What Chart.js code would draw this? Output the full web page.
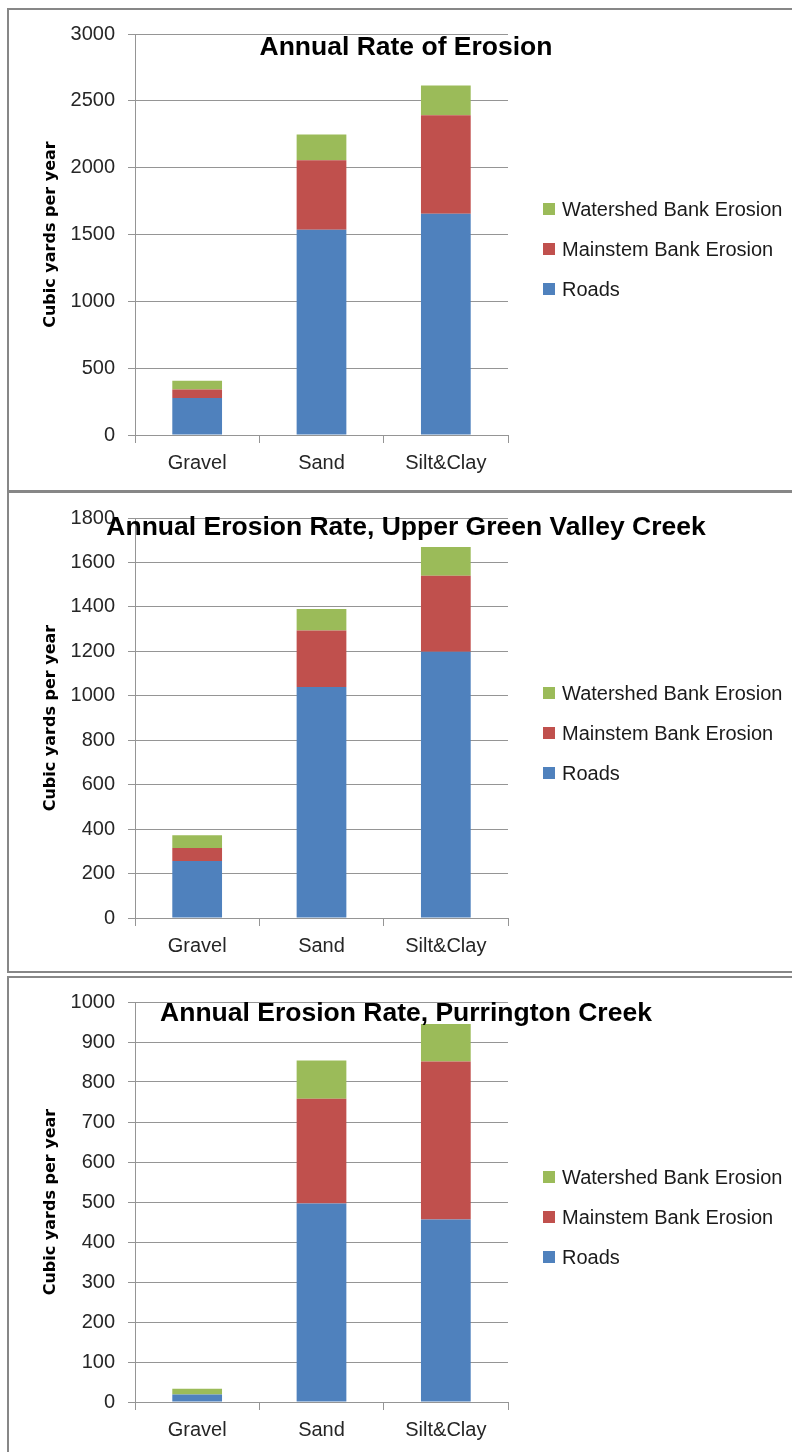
<!DOCTYPE html>
<html>
<head>
<meta charset="utf-8">
<script src="https://cdn.jsdelivr.net/npm/chart.js@4.4.1/dist/chart.umd.min.js"></script>
<style>
  html, body { margin: 0; padding: 0; background: #fff; width: 792px; height: 1452px; overflow: hidden; position: relative; }
  .frame { position: absolute; left: 7px; width: 830px; border: 2px solid #878787; box-sizing: border-box; }
  canvas { position: absolute; left: 0; }
</style>
</head>
<body>
<div class="frame" style="top:8px;height:484px"></div>
<div class="frame" style="top:491px;height:482px"></div>
<div class="frame" style="top:976px;height:520px"></div>
<canvas id="c1" width="792" height="490" style="top:0px"></canvas>
<canvas id="c2" width="792" height="485" style="top:490px"></canvas>
<canvas id="c3" width="792" height="477" style="top:975px"></canvas>
<script>
// ─── Data ─────────────────────────────────────────────────────────────────────
const categories = ['Gravel', 'Sand', 'Silt&Clay'];
const seriesNames = ['Roads', 'Mainstem Bank Erosion', 'Watershed Bank Erosion'];

// Whole watershed
const totalRoads     = [277, 1536, 1656];
const totalMainstem  = [63, 520, 737];
const totalWatershed = [65, 192, 222];
const totalTicks     = [0, 500, 1000, 1500, 2000, 2500, 3000];

// Upper Green Valley Creek
const ugvRoads     = [256, 1040, 1198];
const ugvMainstem  = [59, 254, 342];
const ugvWatershed = [57, 96, 129];
const ugvTicks     = [0, 200, 400, 600, 800, 1000, 1200, 1400, 1600, 1800];

// Purrington Creek
const purRoads     = [19, 496, 456];
const purMainstem  = [0, 262, 395];
const purWatershed = [14, 96, 94];
const purTicks     = [0, 100, 200, 300, 400, 500, 600, 700, 800, 900, 1000];

const COLORS = ['#4F81BD', '#C0504D', '#9BBB59'];
const FONT = '"Liberation Sans", Arial, sans-serif';
const GRID = '#959595';

// Title + legend drawn on top of the chart area
const decor = {
  id: 'decor',
  afterDraw(chart, args, o) {
    const ctx = chart.ctx;
    ctx.save();
    ctx.fillStyle = '#000';
    ctx.font = `bold 26.5px ${FONT}`;
    ctx.textAlign = 'center';
    ctx.textBaseline = 'middle';
    ctx.fillText(o.title, 406, o.titleY);

    ctx.font = `20px ${FONT}`;
    ctx.textAlign = 'left';
    const sets = chart.data.datasets.slice().reverse();
    sets.forEach((ds, i) => {
      const y = o.legendY + i * 40;
      ctx.fillStyle = ds.backgroundColor;
      ctx.fillRect(543, y - 6, 12, 12);
      ctx.fillStyle = '#1a1a1a';
      ctx.fillText(ds.label, 562, y + 1);
    });
    ctx.restore();
  }
};

function makeChart(id, p) {
  const canvas = document.getElementById(id);
  const xHeight = canvas.height - p.plotBottom - 5;
  return new Chart(canvas.getContext('2d'), {
    type: 'bar',
    data: {
      labels: categories,
      datasets: p.series.map((data, i) => ({
        label: seriesNames[i],
        data,
        backgroundColor: COLORS[i],
        borderWidth: 0,
        barPercentage: 0.4,
        categoryPercentage: 1,
      })),
    },
    options: {
      responsive: false,
      animation: false,
      devicePixelRatio: 1,
      layout: { padding: { left: 37, right: 284, top: p.plotTop, bottom: 5 } },
      plugins: {
        legend: { display: false },
        tooltip: { enabled: false },
        decor: { title: p.title, titleY: p.titleY, legendY: p.legendY },
      },
      scales: {
        x: {
          stacked: true,
          afterFit: (s) => { s.height = xHeight; },
          grid: { offset: true, drawOnChartArea: false, drawTicks: true, tickLength: 8, color: GRID, lineWidth: 1 },
          border: { display: true, color: GRID, width: 1 },
          ticks: { color: '#262626', font: { family: FONT, size: 20 }, padding: 8 },
        },
        y: {
          stacked: true,
          min: 0,
          max: p.ticks[p.ticks.length - 1],
          afterFit: (s) => { s.width = 98; },
          afterBuildTicks: (s) => { s.ticks = p.ticks.map(v => ({ value: v })); },
          grid: { color: GRID, lineWidth: 1, tickLength: 7 },
          border: { display: true, color: GRID, width: 1 },
          ticks: { color: '#262626', font: { family: FONT, size: 20 }, padding: 13, callback: (v) => String(v) },
          title: {
            display: true,
            text: 'Cubic yards per year',
            color: '#000',
            font: { family: '"DejaVu Sans", Verdana, sans-serif', size: 16, weight: 'bold' },
            padding: { top: 4, bottom: 4 },
          },
        },
      },
    },
    plugins: [decor],
  });
}

makeChart('c1', {
  title: 'Annual Rate of Erosion',
  series: [totalRoads, totalMainstem, totalWatershed],
  ticks: totalTicks,
  plotTop: 34, plotBottom: 435, titleY: 48, legendY: 209,
});
makeChart('c2', {
  title: 'Annual Erosion Rate, Upper Green Valley Creek',
  series: [ugvRoads, ugvMainstem, ugvWatershed],
  ticks: ugvTicks,
  plotTop: 28, plotBottom: 428, titleY: 38, legendY: 203,
});
makeChart('c3', {
  title: 'Annual Erosion Rate, Purrington Creek',
  series: [purRoads, purMainstem, purWatershed],
  ticks: purTicks,
  plotTop: 27, plotBottom: 427, titleY: 39, legendY: 202,
});
</script>
</body>
</html>
